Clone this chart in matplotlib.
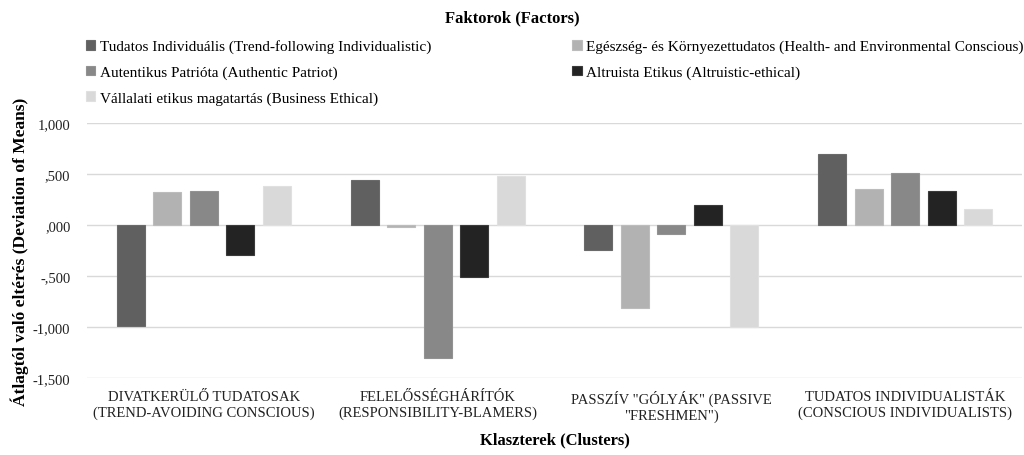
import numpy as np
import matplotlib.pyplot as plt
from matplotlib.ticker import FuncFormatter

# Klaszterek (clusters) and factor deviations
clusters = ['DIVATKERÜLŐ TUDATOSAK\n(TREND-AVOIDING CONSCIOUS)',
            'FELELŐSSÉGHÁRÍTÓK\n(RESPONSIBILITY-BLAMERS)',
            'PASSZÍV "GÓLYÁK" (PASSIVE\n"FRESHMEN")',
            'TUDATOS INDIVIDUALISTÁK\n(CONSCIOUS INDIVIDUALISTS)']
factors = ['Tudatos Individuális (Trend-following Individualistic)',
           'Egészség- és Környezettudatos (Health- and Environmental Conscious)',
           'Autentikus Patrióta (Authentic Patriot)',
           'Altruista Etikus (Altruistic-ethical)',
           'Vállalati etikus magatartás (Business Ethical)']
tudatos_ind = [-0.987, 0.447, -0.245, 0.696]
egeszseg = [0.326, -0.017, -0.814, 0.353]
autentikus = [0.336, -1.298, -0.085, 0.513]
altruista = [-0.290, -0.507, 0.199, 0.333]
vallalati = [0.385, 0.480, -1.000, 0.160]
series = [tudatos_ind, egeszseg, autentikus, altruista, vallalati]
colors = ['#606060', '#b2b2b2', '#888888', '#232323', '#d9d9d9']
edges = ['#6a6a6a', '#bcbcbc', '#929292', '#3a3a3a', '#e0e0e0']

plt.rcParams['font.family'] = ['Liberation Serif', 'DejaVu Serif']

fig = plt.figure(figsize=(10.24, 4.56), dpi=100)
ax = fig.add_axes([0.085, 0.168, 0.913, 0.560])

x = np.arange(len(clusters))
w = 0.12
step = 0.156
handles = []
for i, vals in enumerate(series):
    b = ax.bar(x + (i - 2) * step, vals, w, color=colors[i],
               edgecolor=edges[i], linewidth=0.8, label=factors[i], zorder=3)
    handles.append(b)

ax.set_xlim(-0.5, len(clusters) - 0.5)
ax.set_ylim(-1.5, 1.0)
ax.set_yticks(np.arange(-1.5, 1.01, 0.5))


def hu_fmt(v, pos):
    s = f'{v:.3f}'.replace('.', ',')
    if s.startswith('0,'):
        s = s[1:]
    elif s.startswith('-0,'):
        s = '-' + s[2:]
    return s


ax.yaxis.set_major_formatter(FuncFormatter(hu_fmt))
ax.grid(axis='y', color='#d9d9d9', linewidth=1, zorder=0)
for sp in ax.spines.values():
    sp.set_visible(False)
ax.tick_params(axis='both', length=0, labelsize=10.5, colors='#222222')
ax.tick_params(axis='y', pad=12)
ax.tick_params(axis='x', pad=8.5)
ax.set_xticks(x)
ax.set_xticklabels(clusters, fontsize=10.5)

ax.set_ylabel('Átlagtól való eltérés (Deviation of Means)', fontsize=12.5,
              fontweight='bold', labelpad=3)
ax.set_xlabel('Klaszterek (Clusters)', fontsize=12, fontweight='bold', labelpad=7)

fig.text(0.5, 0.96, 'Faktorok (Factors)', ha='center', va='center',
         fontsize=12, fontweight='bold')
order = [0, 2, 4, 1, 3]
fig.legend([handles[i] for i in order], [factors[i] for i in order],
           loc='upper left', bbox_to_anchor=(0.078, 0.925), ncol=2,
           frameon=False, fontsize=11, handlelength=0.6, handleheight=0.6,
           handletextpad=0.3, columnspacing=9.25, labelspacing=0.8,
           borderaxespad=0)

fig.savefig('out.png', dpi=100)
